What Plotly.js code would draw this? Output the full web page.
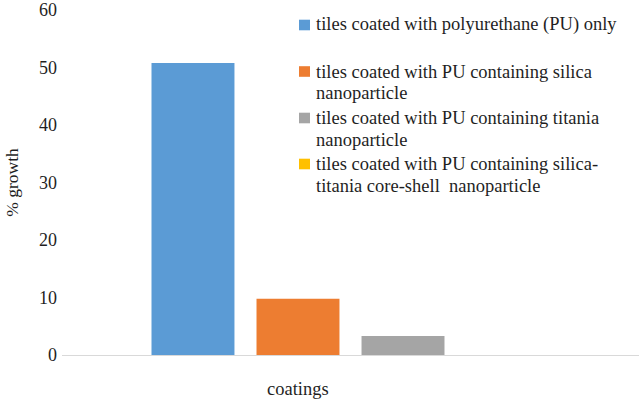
<!DOCTYPE html>
<html>
<head>
<meta charset="utf-8">
<script src="https://cdn.plot.ly/plotly-3.0.1.min.js"></script>
<style>html,body{margin:0;padding:0;background:#fff;}#chart{width:639px;height:400px;}</style>
</head>
<body>
<div id="chart"></div>
<script>
var category = ['coatings'];
var seriesNames = [
  'tiles coated with polyurethane (PU) only',
  'tiles coated with PU containing silica<br>nanoparticle',
  'tiles coated with PU containing titania<br>nanoparticle',
  'tiles coated with PU containing silica-<br>titania core-shell  nanoparticle'
];
var seriesValues = [50.8, 9.8, 3.3, 0];
var seriesColors = ['#5b9bd5', '#ed7d31', '#a5a5a5', '#ffc000'];
var yTicks = [0, 10, 20, 30, 40, 50, 60];

var W = 639, H = 400;
var M = {l: 62, r: 0, t: 10, b: 45};
var PW = W - M.l - M.r, PH = H - M.t - M.b;
function px(x) { return (x - M.l) / PW; }
function py(y) { return (H - M.b - y) / PH; }

var FONT = '"Liberation Serif", "Times New Roman", serif';
var TXT = '#1f1f1f';

var traces = seriesNames.map(function (n, i) {
  return {
    type: 'bar', x: category, y: [seriesValues[i]], name: n,
    marker: {color: seriesColors[i]}, hoverinfo: 'none'
  };
});

// manual legend (line positions measured from reference)
var legendRows = [[25], [71.5, 93], [118, 140], [164, 186]];
var shapes = [], annotations = [];
seriesNames.forEach(function (n, i) {
  var lines = n.split('<br>');
  var rows = legendRows[i];
  shapes.push({
    type: 'rect', xref: 'paper', yref: 'paper',
    x0: px(299), x1: px(310), y0: py(rows[0] - 5.3), y1: py(rows[0] + 5.3),
    fillcolor: seriesColors[i], line: {width: 0}
  });
  lines.forEach(function (t, j) {
    annotations.push({
      xref: 'paper', yref: 'paper', x: px(314), y: py(rows[j]),
      xanchor: 'left', yanchor: 'middle', showarrow: false, text: t,
      font: {family: FONT, size: 18.5, color: TXT}
    });
  });
});
annotations.push({
  xref: 'paper', yref: 'paper', x: px(298), y: py(389),
  xanchor: 'center', yanchor: 'middle', showarrow: false, text: category[0],
  font: {family: FONT, size: 18.5, color: TXT}
});

var layout = {
  width: W, height: H,
  margin: M,
  paper_bgcolor: '#fff', plot_bgcolor: '#fff',
  showlegend: false,
  barmode: 'group', bargap: 0.272, bargroupgap: 0.21,
  font: {family: FONT, size: 18, color: TXT},
  xaxis: {
    type: 'category', range: [-0.5, 0.5], showticklabels: false, ticks: '',
    showgrid: false, zeroline: false, showline: true, linecolor: '#d9d9d9', linewidth: 1
  },
  yaxis: {
    range: [0, 60], tickvals: yTicks, ticktext: yTicks.map(String),
    showgrid: false, zeroline: false, showline: false, ticks: '',
    tickfont: {family: FONT, size: 18, color: TXT}, ticklabelstandoff: 4,
    title: {text: '% growth', font: {family: FONT, size: 17.5, color: TXT}, standoff: 15}
  },
  shapes: shapes,
  annotations: annotations
};

Plotly.newPlot('chart', traces, layout, {displayModeBar: false, staticPlot: true});
</script>
</body>
</html>
